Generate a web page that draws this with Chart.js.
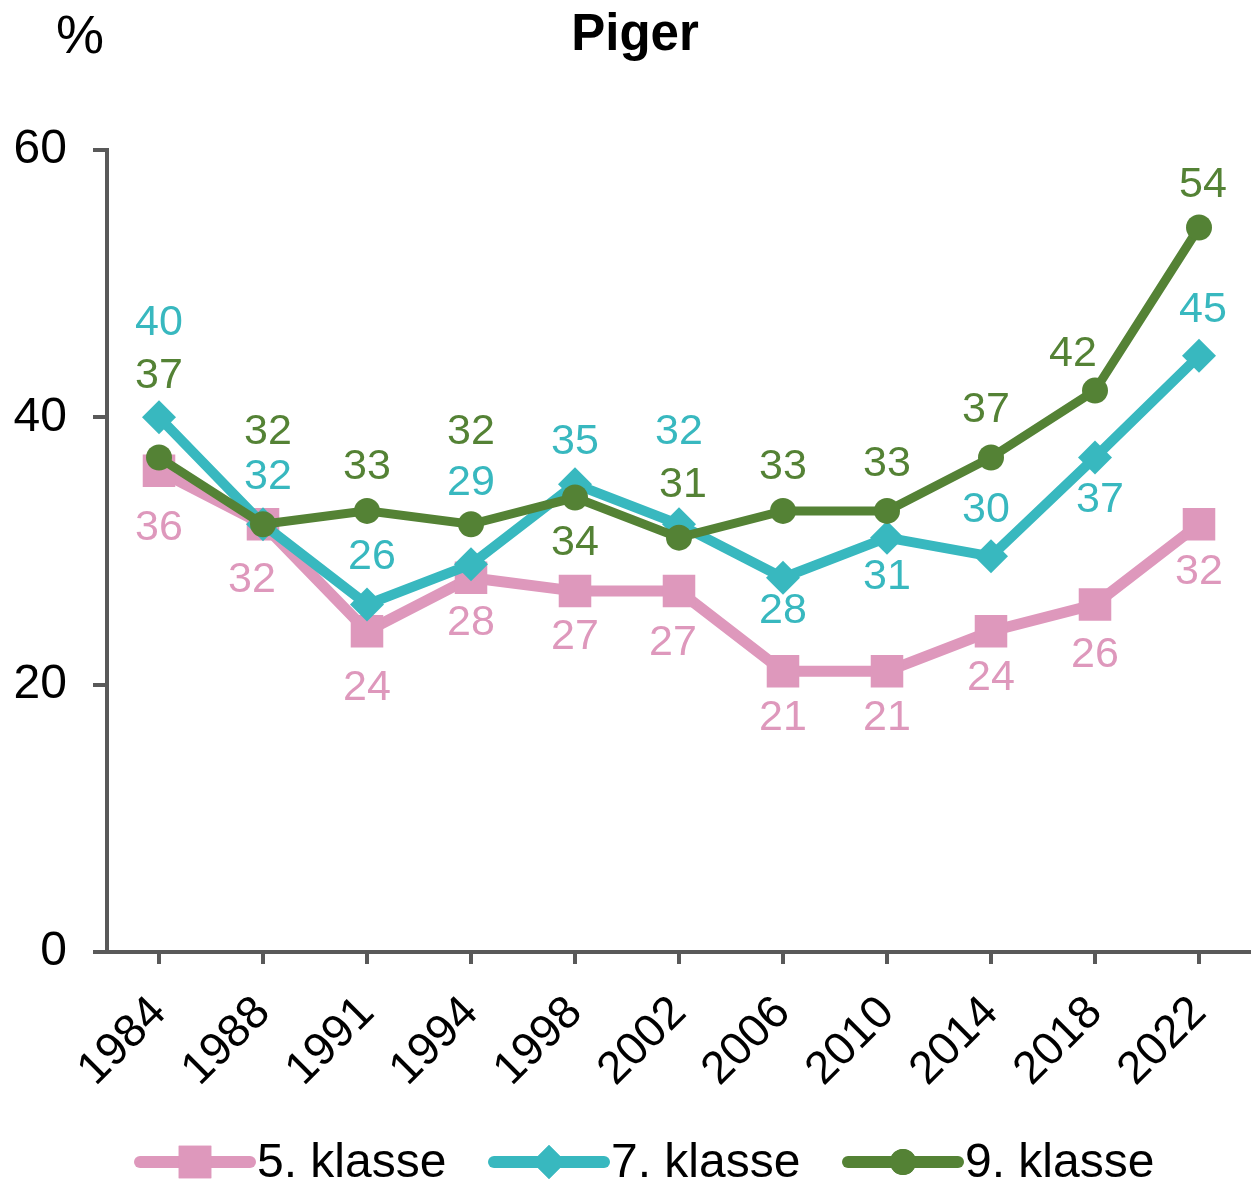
<!DOCTYPE html>
<html lang="da">
<head>
  <meta charset="UTF-8" />
  <title>Piger</title>
  <script src="https://cdn.jsdelivr.net/npm/chart.js"></script>
  <style>
    html, body { margin: 0; padding: 0; background: #fff; }
    #wrap { width: 1251px; height: 1185px; position: relative; }
  </style>
</head>
<body>
  <div id="wrap"><canvas id="chart"></canvas></div>

  <script>
    // data
    const years = ["1984", "1988", "1991", "1994", "1998", "2002", "2006", "2010", "2014", "2018", "2022"];
    const klasse5 = [36, 32, 24, 28, 27, 27, 21, 21, 24, 26, 32];
    const klasse7 = [40, 32, 26, 29, 35, 32, 28, 31, 29.6, 37, 44.6];
    const klasse9 = [37, 32, 33, 32, 34, 31, 33, 33, 37, 42, 54.2];
    const yTicks = [0, 20, 40, 60];

    // where each value label sits relative to its point (px)
    const dy5 = [57, 56, 57, 45, 46, 52, 47, 47, 47, 51, 48];
    const dx5 = [0, -11, 0, 0, 0, -6, 0, 0, 0, 0, 0];
    const dy7 = [-94, -47, -47, -81, -42, -92, 33, 40, -46, 43, -46];
    const dx7 = [0, 5, 5, 0, 0, 0, 0, 0, -5, 5, 4];
    const dy9 = [-81, -92, -44, -92, 46, -52, -44, -47, -47, -36, -42];
    const dx9 = [0, 5, 0, 0, 0, 4, 0, 0, -5, -22, 4];

    const PINK = "#DE98BC";
    const TEAL = "#38B8BF";
    const GREEN = "#548235";
    const AXIS = "#595959";
    const FONT = '"Liberation Sans", Arial, sans-serif';

    Chart.defaults.font.family = FONT;
    Chart.defaults.color = "#000";

    // value labels next to each point
    const valueLabels = {
      id: "valueLabels",
      afterDatasetsDraw(chart) {
        const ctx = chart.ctx;
        ctx.save();
        ctx.font = "43px " + FONT;
        ctx.textAlign = "center";
        ctx.textBaseline = "middle";
        chart.data.datasets.forEach((ds, i) => {
          const meta = chart.getDatasetMeta(i);
          meta.data.forEach((pt, j) => {
            ctx.fillStyle = ds.borderColor;
            ctx.fillText(String(Math.round(ds.data[j])), pt.x + ds.labelDx[j], pt.y + ds.labelDy[j]);
          });
        });
        ctx.restore();
      }
    };

    // title, unit and the line+marker legend at the bottom
    const decorations = {
      id: "decorations",
      afterDraw(chart) {
        const ctx = chart.ctx;
        ctx.save();
        ctx.fillStyle = "#000";
        ctx.textBaseline = "middle";
        ctx.textAlign = "center";
        ctx.font = "bold 51px " + FONT;
        ctx.fillText("Piger", 635, 36);
        ctx.font = "54px " + FONT;
        ctx.fillText("%", 80, 38);

        ctx.textAlign = "left";
        ctx.font = "48px " + FONT;
        const y = 1162;
        chart.data.datasets.forEach((ds, i) => {
          const x0 = 140 + i * 354;
          ctx.strokeStyle = ds.borderColor;
          ctx.lineWidth = 12;
          ctx.lineCap = "round";
          ctx.beginPath();
          ctx.moveTo(x0, y);
          ctx.lineTo(x0 + 110, y);
          ctx.stroke();
          ctx.fillStyle = ds.borderColor;
          Chart.helpers.drawPoint(ctx, {
            pointStyle: ds.pointStyle,
            radius: ds.pointRadius,
            rotation: 0,
            borderWidth: 0
          }, x0 + 55, y);
          ctx.fill();
          ctx.fillStyle = "#000";
          ctx.fillText(ds.label, x0 + 117, y + 2);
        });
        ctx.restore();
      }
    };

    new Chart(document.getElementById("chart"), {
      type: "line",
      data: {
        labels: years,
        datasets: [
          {
            label: "5. klasse",
            data: klasse5,
            labelDy: dy5, labelDx: dx5,
            borderColor: PINK, backgroundColor: PINK,
            borderWidth: 11,
            pointStyle: "rect", pointRadius: 23,
            pointBorderWidth: 0,
            order: 3
          },
          {
            label: "7. klasse",
            data: klasse7,
            labelDy: dy7, labelDx: dx7,
            borderColor: TEAL, backgroundColor: TEAL,
            borderWidth: 10,
            pointStyle: "rectRot", pointRadius: 17,
            pointBorderWidth: 0,
            order: 2
          },
          {
            label: "9. klasse",
            data: klasse9,
            labelDy: dy9, labelDx: dx9,
            borderColor: GREEN, backgroundColor: GREEN,
            borderWidth: 9,
            pointStyle: "circle", pointRadius: 13,
            pointBorderWidth: 0,
            order: 1
          }
        ]
      },
      options: {
        responsive: true,
        maintainAspectRatio: false,
        animation: false,
        clip: false,
        layout: { autoPadding: false, padding: { top: 150, bottom: 90, left: 0, right: 0 } },
        plugins: {
          legend: { display: false },
          tooltip: { enabled: false }
        },
        scales: {
          x: {
            offset: true,
            grid: {
              display: true,
              drawOnChartArea: false,
              drawTicks: true,
              tickLength: 12,
              color: AXIS,
              lineWidth: 4
            },
            border: { display: true, color: AXIS, width: 4 },
            ticks: {
              font: { size: 46 },
              color: "#000",
              minRotation: 45,
              maxRotation: 45,
              padding: 22,
              autoSkip: false
            },
            afterFit(scale) {
              scale.height = 143;
              scale.paddingLeft = 0;
              scale.paddingRight = 0;
            }
          },
          y: {
            min: 0,
            max: 60,
            afterBuildTicks(scale) { scale.ticks = yTicks.map(v => ({ value: v })); },
            grid: {
              display: true,
              drawOnChartArea: false,
              drawTicks: true,
              tickLength: 14,
              color: AXIS,
              lineWidth: 4
            },
            border: { display: true, color: AXIS, width: 4 },
            ticks: {
              font: { size: 48 },
              color: "#000",
              padding: 26
            },
            afterFit(scale) { scale.width = 107; }
          }
        }
      },
      plugins: [valueLabels, decorations]
    });
  </script>
</body>
</html>
